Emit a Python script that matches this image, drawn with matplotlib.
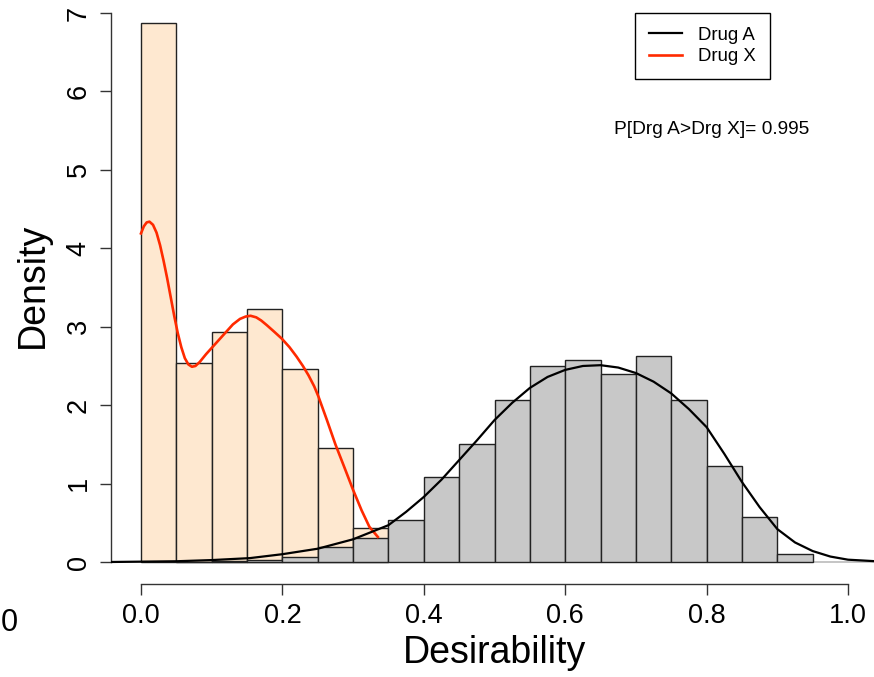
import matplotlib.pyplot as plt
import numpy as np

plt.rcParams["font.family"] = ["Liberation Sans", "DejaVu Sans"]

# histogram bins (left edges, width 0.05)
bin_left_x = [0.00, 0.05, 0.10, 0.15, 0.20, 0.25, 0.30]
dens_x = [6.87, 2.54, 2.93, 3.23, 2.46, 1.46, 0.44]

bin_left_a = [0.05, 0.10, 0.15, 0.20, 0.25, 0.30, 0.35, 0.40, 0.45, 0.50,
              0.55, 0.60, 0.65, 0.70, 0.75, 0.80, 0.85, 0.90]
dens_a = [0.005, 0.01, 0.03, 0.07, 0.19, 0.31, 0.53, 1.08, 1.50, 2.06,
          2.50, 2.57, 2.40, 2.63, 2.06, 1.23, 0.58, 0.10]
BIN_W = 0.05

# kernel density curves
kde_a_x = [-0.05, 0.0, 0.05, 0.1, 0.154, 0.2, 0.25, 0.3, 0.35, 0.375, 0.4,
           0.425, 0.45, 0.475, 0.5, 0.525, 0.55, 0.575, 0.6, 0.625, 0.65,
           0.675, 0.7, 0.725, 0.75, 0.775, 0.8, 0.825, 0.85, 0.875, 0.9,
           0.925, 0.95, 0.975, 1.0, 1.05]
kde_a_y = [0.0, 0.005, 0.01, 0.025, 0.05, 0.10, 0.17, 0.29, 0.47, 0.64, 0.83,
           1.05, 1.30, 1.55, 1.81, 2.03, 2.22, 2.36, 2.45, 2.50, 2.51,
           2.48, 2.41, 2.30, 2.15, 1.95, 1.72, 1.38, 1.02, 0.70, 0.42,
           0.25, 0.14, 0.07, 0.03, 0.005]

kde_x_x = [0.0, 0.004, 0.008, 0.012, 0.017, 0.022, 0.027, 0.032, 0.037,
           0.042, 0.047, 0.052, 0.057, 0.062, 0.067, 0.072, 0.077, 0.083,
           0.092, 0.102, 0.112, 0.121, 0.130, 0.140, 0.148, 0.155, 0.163,
           0.170, 0.178, 0.188, 0.199, 0.210, 0.220, 0.229, 0.237, 0.245,
           0.251, 0.263, 0.275, 0.288, 0.3, 0.312, 0.323, 0.335]
kde_x_y = [4.19, 4.28, 4.33, 4.34, 4.30, 4.20, 4.04, 3.84, 3.62,
           3.38, 3.14, 2.92, 2.74, 2.60, 2.52, 2.49, 2.50, 2.55,
           2.65, 2.75, 2.85, 2.94, 3.03, 3.10, 3.13, 3.14, 3.12,
           3.08, 3.02, 2.94, 2.85, 2.74, 2.62, 2.50, 2.38, 2.24,
           2.11, 1.81, 1.50, 1.20, 0.92, 0.66, 0.45, 0.32]

p_text = "P[Drg A>Drg X]= 0.995"

fig = plt.figure(figsize=(8.74, 6.77), dpi=100)
ax = fig.add_axes([111 / 874, 93 / 677, 767 / 874, 592.9 / 677])

ax.bar(bin_left_x, dens_x, width=BIN_W, align="edge", color="#FEE8D0",
       edgecolor="#222222", linewidth=1.0, zorder=2)
ax.bar(bin_left_a, dens_a, width=BIN_W, align="edge", color="#C8C8C8",
       edgecolor="#222222", linewidth=1.0, zorder=3)
ax.axhline(0, color="#BBBBBB", linewidth=1.2, zorder=1)
ax.plot(kde_x_x, kde_x_y, color="#FF2A00", linewidth=1.9, zorder=4,
        label="Drug X")
ax.plot(kde_a_x, kde_a_y, color="black", linewidth=1.6, zorder=5,
        label="Drug A")

ax.set_xlim(-0.0424, 1.0424)
ax.set_ylim(-0.28, 7.28)
for s in ["top", "right"]:
    ax.spines[s].set_visible(False)
ax.spines["left"].set_bounds(0, 7)
ax.spines["bottom"].set_bounds(0, 1)
for s in ["left", "bottom"]:
    ax.spines[s].set_color("#333333")
    ax.spines[s].set_linewidth(1.0)

ax.set_xticks(np.arange(0, 1.01, 0.2))
ax.set_xticklabels([f"{v:.1f}" for v in np.arange(0, 1.01, 0.2)])
ax.set_yticks(range(8))
ax.tick_params(axis="both", direction="out", length=8, width=1.0,
               color="#333333", labelsize=19.5, pad=6)
for lab in ax.get_yticklabels():
    lab.set_rotation(90)
    lab.set_va("center")

ax.set_xlabel("Desirability", fontsize=27)
ax.xaxis.label.set_va("baseline")
ax.xaxis.set_label_coords(0.5, -(663 - 584) / 592.9)
ax.set_ylabel("Density", fontsize=27)
ax.yaxis.label.set(va="center", ha="center", rotation_mode="default")
ax.yaxis.set_label_coords((32.5 - 111) / 767, (584 - 285) / 592.9)

handles, labels = ax.get_legend_handles_labels()
leg = ax.legend(handles[::-1], labels[::-1], loc="upper left",
                bbox_to_anchor=(635 / 874, 1 - 12.7 / 677),
                bbox_transform=fig.transFigure, fontsize=13.4,
                frameon=True, fancybox=False, edgecolor="black",
                framealpha=1, borderaxespad=0, borderpad=0.75,
                handlelength=1.8, handletextpad=0.85, labelspacing=0.25)
leg.get_frame().set_linewidth(1.0)

fig.text(614 / 874, 1 - 130 / 677, p_text, fontsize=13.8, va="center",
         ha="left")
fig.text(9 / 874, 1 - 623 / 677, "0", fontsize=22, va="center", ha="center")

plt.savefig("out.png", dpi=100)
